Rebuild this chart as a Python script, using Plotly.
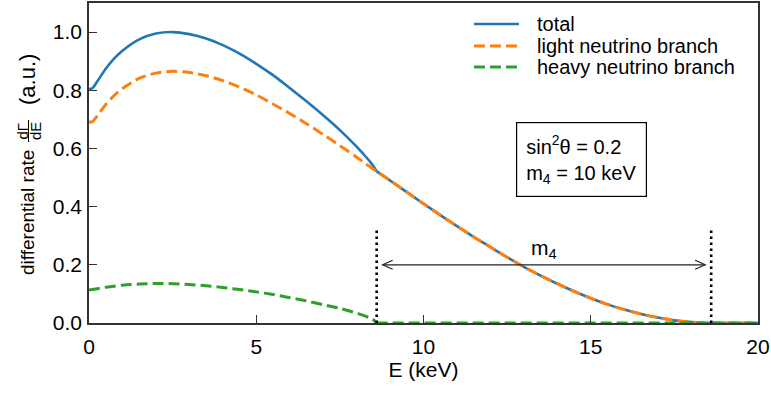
import plotly.graph_objects as go

# ---------------- data ----------------
E_light = [0.0, 0.1, 0.25, 0.5, 0.75, 1.0, 1.5, 2.0, 2.5, 3.0, 3.5, 4.0, 4.5, 5.0,
           5.5, 6.0, 6.5, 7.0, 7.5, 8.0, 8.6, 9.0, 9.5, 10.0, 10.5, 11.0, 11.5,
           12.0, 12.5, 13.0, 13.5, 14.0, 14.5, 15.0, 15.5, 16.0, 16.5, 17.0,
           17.5, 18.0, 18.3, 18.6, 20.0]
light = [0.691, 0.692, 0.712, 0.751, 0.782, 0.806, 0.841, 0.859, 0.865, 0.861,
         0.850, 0.833, 0.811, 0.784, 0.753, 0.720, 0.685, 0.648, 0.610, 0.570,
         0.521, 0.490, 0.450, 0.410, 0.371, 0.333, 0.296, 0.261, 0.226, 0.193,
         0.163, 0.135, 0.109, 0.085, 0.064, 0.046, 0.031, 0.019, 0.009, 0.003,
         0.001, 0.0, 0.0]

E_total = [0.0, 0.1, 0.25, 0.5, 0.75, 1.0, 1.5, 2.0, 2.5, 3.0, 3.5, 4.0, 4.5, 5.0,
           5.5, 6.0, 6.5, 7.0, 7.5, 8.0, 8.2, 8.4, 8.5, 8.6, 9.0, 9.5, 10.0, 10.5,
           11.0, 11.5, 12.0, 12.5, 13.0, 13.5, 14.0, 14.5, 15.0, 15.5, 16.0,
           16.5, 17.0, 17.5, 18.0, 18.3, 18.6, 20.0]
total = [0.804, 0.807, 0.831, 0.874, 0.909, 0.936, 0.975, 0.995, 1.000, 0.993,
         0.978, 0.955, 0.926, 0.891, 0.852, 0.808, 0.762, 0.714, 0.663, 0.606,
         0.581, 0.555, 0.540, 0.521, 0.490, 0.450, 0.410, 0.371, 0.333, 0.296,
         0.261, 0.226, 0.193, 0.163, 0.135, 0.109, 0.085, 0.064, 0.046, 0.031,
         0.019, 0.009, 0.003, 0.001, 0.0, 0.0]

E_heavy = [0.0, 0.25, 0.5, 1.0, 1.5, 2.0, 2.5, 3.0, 3.5, 4.0, 4.5, 5.0, 5.5, 6.0,
           6.5, 7.0, 7.5, 8.0, 8.2, 8.4, 8.5, 8.6, 20.0]
heavy = [0.113, 0.118, 0.123, 0.130, 0.134, 0.136, 0.135, 0.132, 0.128, 0.122,
         0.115, 0.107, 0.098, 0.087, 0.076, 0.063, 0.050, 0.034, 0.026, 0.017,
         0.011, 0.0, 0.0]

KINK_E = 8.6          # E0 - m4
ENDPOINT_E = 18.6     # E0
MARKER_TOP = 0.32
ARROW_Y = 0.2
ARROW_LABEL_X = 13.6

x_ticks = [0, 5, 10, 15, 20]
y_ticks = [0.0, 0.2, 0.4, 0.6, 0.8, 1.0]
y_ticktext = ["0.0", "0.2", "0.4", "0.6", "0.8", "1.0"]
legend_labels = ["total", "light neutrino branch", "heavy neutrino branch"]
box_text = "sin<sup>2</sup>θ = 0.2<br>m<sub>4</sub> = 10 keV"

X_RANGE = [0, 20]
Y_RANGE = [0, 1.1]

# ---------------- style / layout ----------------
W, H = 771, 394
ML, MR, MT, MB = 89, 13, 3, 71
PW, PH = W - ML - MR, H - MT - MB
FONT = "Liberation Sans, Arial, sans-serif"
FS = 21
BLUE, ORANGE, GREEN = "#1f77b4", "#ff7f0e", "#2ca02c"
DASH = "11px,5px"
AX = "#333333"


def px_x(p):  # figure pixel -> paper x
    return (p - ML) / PW


def px_y(p):  # figure pixel -> paper y
    return (H - MB - p) / PH


fig = go.Figure()

k_t = E_total.index(KINK_E)
k_h = E_heavy.index(KINK_E)

fig.add_trace(go.Scatter(x=E_total[:k_t + 1], y=total[:k_t + 1], mode="lines",
                         name=legend_labels[0], legendgroup="t",
                         line=dict(color=BLUE, width=2.6, shape="spline", smoothing=0.8)))
fig.add_trace(go.Scatter(x=E_total[k_t:], y=total[k_t:], mode="lines",
                         name=legend_labels[0], legendgroup="t", showlegend=False,
                         line=dict(color=BLUE, width=2.6, shape="spline", smoothing=0.8)))
fig.add_trace(go.Scatter(x=E_light, y=light, mode="lines", name=legend_labels[1],
                         line=dict(color=ORANGE, width=3, dash=DASH, shape="spline",
                                   smoothing=0.8)))
fig.add_trace(go.Scatter(x=E_heavy[:k_h + 1], y=heavy[:k_h + 1], mode="lines",
                         name=legend_labels[2], legendgroup="h",
                         line=dict(color=GREEN, width=3, dash=DASH, shape="spline",
                                   smoothing=0.8)))
fig.add_trace(go.Scatter(x=E_heavy[k_h:], y=heavy[k_h:], mode="lines",
                         name=legend_labels[2], legendgroup="h", showlegend=False,
                         line=dict(color=GREEN, width=3, dash=DASH)))

shapes = []
# dotted markers at E0-m4 and E0
for xv in (KINK_E, ENDPOINT_E):
    shapes.append(dict(type="line", xref="x", yref="y", x0=xv, x1=xv, y0=0, y1=MARKER_TOP,
                       line=dict(color="black", width=2.6, dash="2.5px,3.5px")))

# double arrow
dxp = (X_RANGE[1] - X_RANGE[0]) / PW
dyp = (Y_RANGE[1] - Y_RANGE[0]) / PH
sh = 6 * dxp
hl, hw = 10 * dxp, 4.5 * dyp
xa, xb = KINK_E + sh, ENDPOINT_E - sh
shapes.append(dict(type="line", xref="x", yref="y", x0=xa, x1=xb, y0=ARROW_Y, y1=ARROW_Y,
                   line=dict(color="#222222", width=1.2)))
shapes.append(dict(type="path", xref="x", yref="y",
                   path=f"M {xa + hl},{ARROW_Y + hw} L {xa},{ARROW_Y} L {xa + hl},{ARROW_Y - hw}",
                   line=dict(color="#222222", width=1.2)))
shapes.append(dict(type="path", xref="x", yref="y",
                   path=f"M {xb - hl},{ARROW_Y + hw} L {xb},{ARROW_Y} L {xb - hl},{ARROW_Y - hw}",
                   line=dict(color="#222222", width=1.2)))

# custom legend (samples + labels)
leg_rows = [24, 46, 67]
leg_styles = [dict(color=BLUE, width=2.6), dict(color=ORANGE, width=3, dash=DASH),
              dict(color=GREEN, width=3, dash=DASH)]
annotations = []
for row, st, lab in zip(leg_rows, leg_styles, legend_labels):
    shapes.append(dict(type="line", xref="paper", yref="paper", x0=px_x(474), x1=px_x(519),
                       y0=px_y(row), y1=px_y(row), line=st))
    annotations.append(dict(xref="paper", yref="paper", x=px_x(535), y=px_y(row), text=lab,
                            showarrow=False, xanchor="left", yanchor="middle",
                            font=dict(family=FONT, size=20, color="black")))

# parameter box
annotations.append(dict(xref="paper", yref="paper", x=px_x(581.5), y=px_y(159.5),
                        text=box_text, showarrow=False, align="left",
                        xanchor="center", yanchor="middle", bordercolor="black",
                        borderwidth=1.2, borderpad=9, bgcolor="white",
                        font=dict(family=FONT, size=20, color="black")))

# m4 label
annotations.append(dict(xref="x", yref="y", x=ARROW_LABEL_X, y=ARROW_Y, text="m<sub>4</sub>",
                        showarrow=False, xanchor="center", yanchor="bottom", yshift=1,
                        font=dict(family=FONT, size=FS, color="black")))

# y-axis label: differential rate dΓ/dE (a.u.)
annotations.append(dict(xref="paper", yref="paper", x=px_x(27), y=px_y(213),
                        text="differential rate", textangle=-90, showarrow=False,
                        xanchor="center", yanchor="middle",
                        font=dict(family=FONT, size=19, color="black")))
annotations.append(dict(xref="paper", yref="paper", x=px_x(21.5), y=px_y(131),
                        text="dΓ", textangle=-90, showarrow=False,
                        xanchor="center", yanchor="middle",
                        font=dict(family=FONT, size=15, color="black")))
annotations.append(dict(xref="paper", yref="paper", x=px_x(35), y=px_y(131),
                        text="dE", textangle=-90, showarrow=False,
                        xanchor="center", yanchor="middle",
                        font=dict(family=FONT, size=15, color="black")))
shapes.append(dict(type="line", xref="paper", yref="paper", x0=px_x(28.5), x1=px_x(28.5),
                   y0=px_y(120), y1=px_y(142), line=dict(color="black", width=1)))
annotations.append(dict(xref="paper", yref="paper", x=px_x(27), y=px_y(80),
                        text="(a.u.)", textangle=-90, showarrow=False,
                        xanchor="center", yanchor="middle",
                        font=dict(family=FONT, size=22, color="black")))

fig.update_layout(
    width=W, height=H, margin=dict(l=ML, r=MR, t=MT, b=MB, autoexpand=False),
    paper_bgcolor="white", plot_bgcolor="white", showlegend=False,
    font=dict(family=FONT, size=FS, color="black"),
    shapes=shapes, annotations=annotations,
    xaxis=dict(range=X_RANGE, tickvals=x_ticks, ticks="inside", ticklen=8, tickwidth=1.4,
               tickcolor=AX, showline=True, linecolor=AX, linewidth=1.6, mirror=True,
               showgrid=False, zeroline=False, ticklabelstandoff=4,
               title=dict(text="E (keV)", standoff=2, font=dict(size=FS)),
               tickfont=dict(size=FS)),
    yaxis=dict(range=Y_RANGE, tickvals=y_ticks, ticktext=y_ticktext, ticks="inside",
               ticklen=8, tickwidth=1.4, tickcolor=AX, showline=True, linecolor=AX,
               linewidth=1.6, mirror=True, showgrid=False, zeroline=False,
               ticklabelstandoff=1, tickfont=dict(size=FS)),
)

fig.write_html("out.html")
